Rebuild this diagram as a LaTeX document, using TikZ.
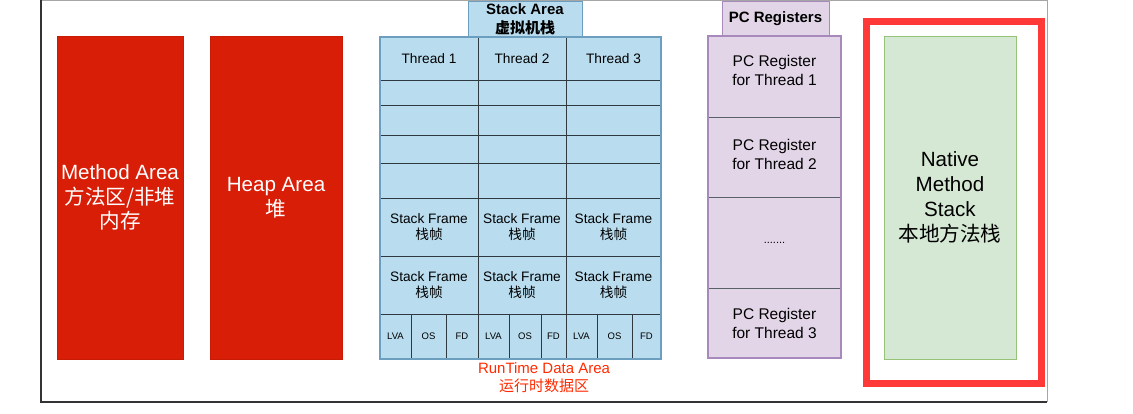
\documentclass[tikz,border=0pt]{standalone}
\usepackage{fontspec}
\setmainfont{Liberation Sans}
\newfontfamily\cjk{Noto Sans CJK SC}
\definecolor{redarea}{HTML}{D91E07}
\definecolor{redline}{HTML}{C81A05}
\definecolor{stackfill}{HTML}{B9DDEF}
\definecolor{stackline}{HTML}{6C9EBF}
\definecolor{cellline}{HTML}{2E3A40}
\definecolor{pcfill}{HTML}{E1D5E7}
\definecolor{pcline}{HTML}{A889BC}
\definecolor{greenfill}{HTML}{D5E8D4}
\definecolor{greenline}{HTML}{97C279}
\definecolor{nframe}{HTML}{FF3838}
\definecolor{rtred}{HTML}{FF2A00}
\begin{document}
\begin{tikzpicture}[x=1pt,y=-1pt,
  box/.style={inner sep=0pt, outer sep=0pt, anchor=north west, align=center},
  redbox/.style={box, fill=redarea, draw=redline, line width=0.8pt, text=white, font=\fontsize{20.6}{24.5}\selectfont},
  stackcell/.style={box, fill=stackfill, draw=cellline, line width=0.9pt, font=\fontsize{13.7}{16}\selectfont},
  smallcell/.style={stackcell, font=\fontsize{9.5}{11}\selectfont},
  header/.style={box, line width=1pt, font=\bfseries\fontsize{15}{19}\selectfont},
  pccell/.style={box, fill=pcfill, draw=cellline!80, line width=0.9pt},
  pctext/.style={align=center, inner sep=0pt, font=\fontsize{15.5}{19}\selectfont},
]
\useasboundingbox (0,0) rectangle (1133,414);
% outer frame
\node[box, minimum width=1006, minimum height=401.5] (frame) at (41,0.5) {};
\draw[gray!70, line width=1pt] (frame.north west) -- (frame.north east) -- (frame.south east);
\draw[black!80, line width=1.2pt] (frame.north west) -- (frame.south west) -- (frame.south east);

% method & heap
\node[redbox, minimum width=126, minimum height=323] (method) at (57,36) {Method Area\\{\cjk 方法区/非堆}\\{\cjk 内存}};
\node[redbox, minimum width=132, minimum height=323] (heap) at (210,36) {Heap Area\\{\cjk 堆}};

% stack area header
\node[header, fill=stackfill, draw=stackline, minimum width=114, minimum height=35] (sthead) at (468,2) {Stack Area\\{\cjk\bfseries 虚拟机栈}};

% stack table
\foreach \i/\xa/\xb in {1/380/478,2/478/566,3/566/661}{
  \node[stackcell, minimum width={\xb-\xa}, minimum height=43] (t\i) at (\xa,37) {Thread \i};
  \foreach \r/\ya/\yb in {1/80/105,2/105/135,3/135/163,4/163/198}{
    \node[stackcell, minimum width={\xb-\xa}, minimum height={\yb-\ya}] (e\r\i) at (\xa,\ya) {};
  }
  \node[stackcell, minimum width={\xb-\xa}, minimum height=58] (fa\i) at (\xa,198) {Stack Frame\\{\cjk 栈帧}};
  \node[stackcell, minimum width={\xb-\xa}, minimum height=58] (fb\i) at (\xa,256) {Stack Frame\\{\cjk 栈帧}};
}
\foreach \i/\xa/\xb/\xc/\xd in {1/380/411/446/478,2/478/509/541/566,3/566/597/632/661}{
  \node[smallcell, minimum width={\xb-\xa}, minimum height=45] (lva\i) at (\xa,314) {LVA};
  \node[smallcell, minimum width={\xc-\xb}, minimum height=45] (os\i) at (\xb,314) {OS};
  \node[smallcell, minimum width={\xd-\xc}, minimum height=45] (fd\i) at (\xc,314) {FD};
}
\node[box, minimum width=281, minimum height=322] (stackouter) at (380,37) {};
\draw[stackline, line width=1.4pt] (stackouter.north west) rectangle (stackouter.south east);

\node[align=center, text=rtred, font=\fontsize{15}{18}\selectfont] (rt) at (544,378) {RunTime Data Area\\{\cjk 运行时数据区}};

% PC registers
\node[header, fill=pcfill, draw=pcline, minimum width=107, minimum height=34] (pchead) at (722,2) {PC Registers};
\node[pccell, minimum width=133, minimum height=81,
  label={[pctext, yshift=6.5pt]center:PC Register\\for Thread 1}] (pc1) at (708,36) {};
\node[pccell, minimum width=133, minimum height=80,
  label={[pctext, yshift=3pt]center:PC Register\\for Thread 2}] (pc2) at (708,117) {};
\node[pccell, minimum width=133, minimum height=91, font=\fontsize{11}{13}\selectfont] (pc3) at (708,197) {.......};
\node[pccell, minimum width=133, minimum height=70,
  label={[pctext]center:PC Register\\for Thread 3}] (pc4) at (708,288) {};
\node[box, minimum width=133, minimum height=322] (pcouter) at (708,36) {};
\draw[pcline, line width=1.2pt] (pcouter.north west) rectangle (pcouter.south east);

% native method stack
\node[box, draw=nframe, line width=7pt, minimum width=175, minimum height=362] (nf) at (866.5,21.5) {};
\node[box, fill=greenfill, draw=greenline, line width=0.9pt, minimum width=132, minimum height=323, font=\fontsize{20.6}{25}\selectfont] (native) at (884,36) {Native\\Method\\Stack\\{\cjk 本地方法栈}};
\end{tikzpicture}
\end{document}
